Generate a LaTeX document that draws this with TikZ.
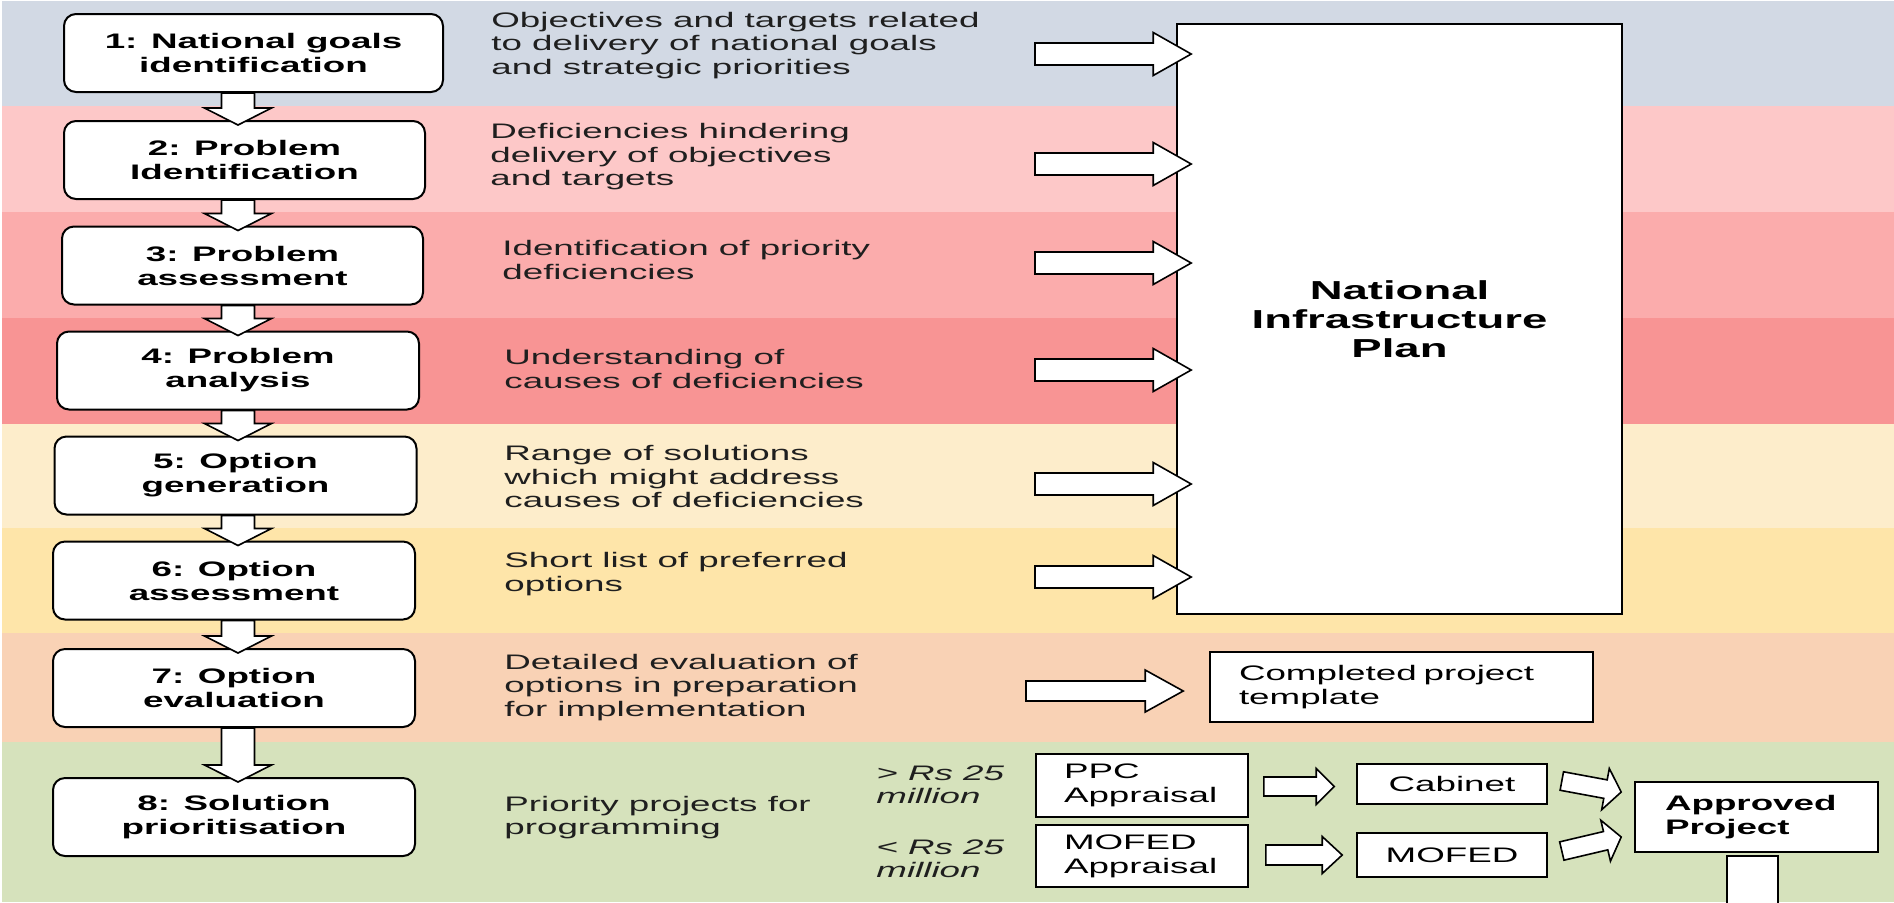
\documentclass[tikz,border=0pt]{standalone}
\usepackage{fontspec}
\setmainfont{Liberation Sans}[FakeStretch=1.75]
\usetikzlibrary{calc}

\definecolor{bandA}{HTML}{D2D9E4}
\definecolor{bandB}{HTML}{FDC8C8}
\definecolor{bandC}{HTML}{FBACAC}
\definecolor{bandD}{HTML}{F89494}
\definecolor{bandE}{HTML}{FDEDCB}
\definecolor{bandF}{HTML}{FEE5A9}
\definecolor{bandG}{HTML}{F9D2B5}
\definecolor{bandH}{HTML}{D6E2BC}

% block arrow: from, to, shaft half width, head half width, head length
\newcommand\blockarrow[5]{%
  \coordinate (ba-s) at (#1);
  \coordinate (ba-t) at (#2);
  \coordinate (ba-h) at ($(ba-t)!#5!(ba-s)$);
  \draw[arrowbody] ($(ba-s)!#3!90:(ba-t)$) -- ($(ba-h)!#3!90:(ba-t)$)
    -- ($(ba-h)!#4!90:(ba-t)$) -- (ba-t) -- ($(ba-h)!#4!-90:(ba-t)$)
    -- ($(ba-h)!#3!-90:(ba-t)$) -- ($(ba-s)!#3!-90:(ba-t)$) -- cycle;
}

\begin{document}
\begin{tikzpicture}[x=0.5pt, y=-0.5pt,
  stepbox/.style={draw=black, fill=white, line width=1pt, rounded corners=6pt, minimum width=181pt, minimum height=39pt, align=center, inner sep=0pt, font=\bfseries\fontsize{10.5}{12}\selectfont},
  desc/.style={anchor=west, align=left, inner sep=0pt, text=black!88, font=\fontsize{10.5}{11.75}\selectfont},
  plainbox/.style={draw=black, fill=white, line width=0.8pt, align=left, font=\fontsize{10.5}{12}\selectfont},
  arrowbody/.style={draw=black, fill=white, line width=0.8pt, line join=miter}]
\useasboundingbox (0,0) rectangle (1894,902);
\clip (0,0) rectangle (1894,902);
% bands
\fill[white] (0,0) rectangle (1894,902);
\fill[bandA] (2,1) rectangle (1894,106);
\fill[bandB] (2,106) rectangle (1894,212);
\fill[bandC] (2,212) rectangle (1894,318);
\fill[bandD] (2,318) rectangle (1894,424);
\fill[bandE] (2,424) rectangle (1894,528);
\fill[bandF] (2,528) rectangle (1894,633);
\fill[bandG] (2,633) rectangle (1894,742);
\fill[bandH] (2,742) rectangle (1894,902);

% steps
\node[stepbox, minimum width=189.5pt] (s1) at (253.5,53) {1: National goals\\identification};
\node[stepbox, minimum width=180.5pt] (s2) at (244.5,160) {2: Problem\\Identification};
\node[stepbox, minimum width=180.5pt] (s3) at (242.5,265.5) {3: Problem\\assessment};
\node[stepbox] (s4) at (238,370.5) {4: Problem\\analysis};
\node[stepbox] (s5) at (235.5,475.5) {5: Option\\generation};
\node[stepbox] (s6) at (234,580.5) {6: Option\\assessment};
\node[stepbox] (s7) at (234,688) {7: Option\\evaluation};
\node[stepbox] (s8) at (234,817) {8: Solution\\prioritisation};

% outputs
\node[desc] (d1) at (491,45.5) {Objectives and targets related\\to delivery of national goals\\and strategic priorities};
\node[desc] (d2) at (490,157) {Deficiencies hindering\\delivery of objectives\\and targets};
\node[desc] (d3) at (502,260) {Identification of priority\\deficiencies};
\node[desc] (d4) at (504,369) {Understanding of\\causes of deficiencies};
\node[desc] (d5) at (504,476.5) {Range of solutions\\which might address\\causes of deficiencies};
\node[desc] (d6) at (504,574) {Short list of preferred\\options};
\node[desc] (d7) at (504,687.5) {Detailed evaluation of\\options in preparation\\for implementation};
\node[desc] (d8) at (504,817.5) {Priority projects for\\programming};
\node[desc, font=\itshape\fontsize{10.5}{11.75}\selectfont] (g1) at (876,784.5) {> Rs 25\\million};
\node[desc, font=\itshape\fontsize{10.5}{11.75}\selectfont] (g2) at (876,858.5) {< Rs 25\\million};

% plan and approval boxes
\node[plainbox, align=center, minimum width=222.5pt, minimum height=295pt, font=\bfseries\fontsize{13}{14.5}\selectfont] (nip) at (1399.5,319) {National\\Infrastructure\\Plan};
\node[plainbox, text width=162.5pt, inner xsep=14.5pt, minimum height=35pt] (cpt) at (1401.5,687) {Completed project\\template};
\node[plainbox, text width=78pt, inner xsep=14pt, minimum height=31.5pt] (ppc) at (1142,785.5) {PPC\\Appraisal};
\node[plainbox, text width=78pt, inner xsep=14pt, minimum height=31pt] (mofa) at (1142,856) {MOFED\\Appraisal};
\node[plainbox, align=center, minimum width=95pt, minimum height=20pt] (cab) at (1452,784) {Cabinet};
\node[plainbox, align=center, minimum width=95pt, minimum height=22pt] (mof) at (1452,855) {MOFED};
\node[plainbox, text width=91.5pt, inner xsep=15pt, minimum height=35pt, font=\bfseries\fontsize{10.5}{12}\selectfont] (appr) at (1756.5,817) {Approved\\Project};

% arrows
\coordinate (axis) at (238,0);
\foreach \a/\b in {s1/s2, s2/s3, s3/s4, s4/s5, s5/s6, s6/s7, s7/s8}
  \blockarrow{\a.south -| axis}{$(\b.north -| axis)+(0,5)$}{8.25pt}{16.75pt}{8.5pt};
\foreach \y [count=\i] in {54,164,263,370,484,577}{
  \coordinate (in\i) at (1035,\y);
  \blockarrow{in\i}{$(nip.west |- in\i)+(15,0)$}{5.5pt}{10.75pt}{19pt}
}
\coordinate (in7) at (1026,691);
\blockarrow{in7}{$(cpt.west |- in7)+(-26,0)$}{5pt}{10.5pt}{19pt};
\blockarrow{$(ppc.east)+(15,1)$}{$(cab.west)+(-22,2.5)$}{4.75pt}{9pt}{9pt};
\blockarrow{$(mofa.east)+(17,-1)$}{$(mof.west)+(-14,0)$}{5pt}{9.25pt}{10pt};
\blockarrow{$(cab.east)+(14,-3)$}{$(appr.west)+(-13,-25)$}{4.7pt}{10.5pt}{8pt};
\blockarrow{$(mof.east)+(14,-4)$}{$(appr.west)+(-13,20)$}{4.7pt}{10.5pt}{8pt};
\draw[arrowbody] ($(appr.south)+(-29.5,3)$) rectangle ($(appr.south)+(21.5,60)$);
\end{tikzpicture}
\end{document}
